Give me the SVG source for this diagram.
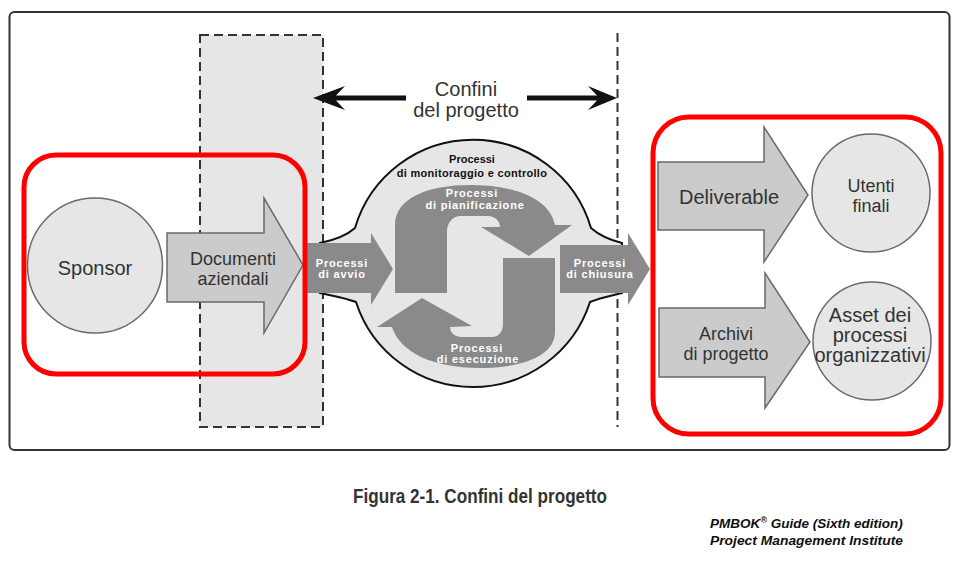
<svg xmlns="http://www.w3.org/2000/svg" width="961" height="562" viewBox="0 0 961 562">
<style>
.lbl{font-family:"Liberation Sans",Arial,sans-serif;font-size:20px;fill:#333;text-anchor:middle}
.l2{font-size:18px}
.wp{font-family:"Liberation Sans",Arial,sans-serif;font-size:11px;font-weight:bold;fill:#fff;text-anchor:middle;letter-spacing:0.8px}
.bp{font-family:"Liberation Sans",Arial,sans-serif;font-size:11px;font-weight:bold;fill:#111;text-anchor:middle}
.circ{fill:#e6e6e6;stroke:#6a6a6a;stroke-width:1.5}
.barrow{fill:#cbcbcb;stroke:#6a6a6a;stroke-width:1.5}
.proc{fill:#8a8a8a}
.dash{fill:none;stroke:#333;stroke-width:2;stroke-dasharray:9 5}
.red{fill:none;stroke:#ff0000;stroke-width:5}
</style>
<rect width="961" height="562" fill="#fff"/>
<rect id="frame" x="9.5" y="12" width="940" height="438" rx="5" fill="#fff" stroke="#333" stroke-width="2"/>
<g id="boundary">
<rect x="200" y="35" width="123" height="392" fill="#e6e6e6"/>
<rect x="200" y="35" width="123" height="392" class="dash"/>
<line x1="617.5" y1="33" x2="617.5" y2="427" class="dash"/>
</g>
<g id="connectors">
<path d="M406,95.5 L336,95.5 L345,86 L313,98 L345,110 L336,100.5 L406,100.5 Z" fill="#111"/>
<path d="M527,95.5 L597,95.5 L588,86 L617,98 L588,110 L597,100.5 L527,100.5 Z" fill="#111"/>
</g>
<g id="confini-label">
<text class="lbl" x="466" y="96">Confini</text>
<text class="lbl" x="466" y="117">del progetto</text>
</g>
<g id="sponsor">
<circle class="circ" cx="95" cy="265.5" r="67.5"/>
<text class="lbl" x="95" y="275">Sponsor</text>
</g>
<g id="documenti">
<path class="barrow" d="M167,233 L264,233 L264,198 L303,265 L264,333 L264,302 L167,302 Z"/>
<text class="lbl l2" x="233" y="265">Documenti</text>
<text class="lbl l2" x="233" y="285">aziendali</text>
</g>
<g id="monitoraggio">
<path d="M320,243 C335,240 346,236 355,228 A123 123 0 0 1 591,228 C600,236 610,240 622,243 L622,293 C610,296 600,298 590,302 A123 123 0 0 1 356,302 C346,298 334,296 320,293 Z" fill="#e6e6e6" stroke="#111" stroke-width="2"/>
<text class="bp" x="472" y="163">Processi</text>
<text class="bp" x="472" y="177" letter-spacing="0.3">di monitoraggio e controllo</text>
</g>
<g id="pianificazione">
<path class="proc" d="M395,293 L395,225 C395,198 428,185 470,185 C518,185 550,200 555,225 L572,225 L529,256 L481,227 L500,227 C500,221 495,216 488,216 L461,216 C452,216 447,223 447,232 L447,293 Z"/>
<text class="wp" x="472" y="197">Processi</text>
<text class="wp" x="475" y="209" letter-spacing="0.5">di pianificazione</text>
</g>
<g id="esecuzione">
<path class="proc" d="M555,258 L555,332 C555,356 522,368 480,368 C432,368 400,352 392,327 L377,327 L422,298 L472,326 L450,327 C450,333 455,337 462,337 L492,337 C499,337 503,331 503,324 L503,258 Z"/>
<text class="wp" x="477" y="352">Processi</text>
<text class="wp" x="478" y="363">di esecuzione</text>
</g>
<g id="avvio">
<path class="proc" d="M305,243 L371,243 L371,233 L393,269 L371,305 L371,293 L305,293 Z"/>
<text class="wp" x="342" y="267">Processi</text>
<text class="wp" x="342" y="278">di avvio</text>
</g>
<g id="chiusura">
<path class="proc" d="M560,245 L628,245 L628,233 L650,269 L628,305 L628,293 L560,293 Z"/>
<text class="wp" x="600" y="267">Processi</text>
<text class="wp" x="600" y="278">di chiusura</text>
</g>
<g id="deliverable">
<path class="barrow" d="M658,162 L764,162 L764,127 L808,195 L764,262 L764,230 L658,230 Z"/>
<text class="lbl" x="729" y="204">Deliverable</text>
</g>
<g id="utenti">
<circle class="circ" cx="871" cy="193" r="59"/>
<text class="lbl l2" x="871" y="192">Utenti</text>
<text class="lbl l2" x="871" y="212">finali</text>
</g>
<g id="archivi">
<path class="barrow" d="M659,308 L765,308 L765,273 L810,342 L765,408 L765,377 L659,377 Z"/>
<text class="lbl l2" x="726" y="340">Archivi</text>
<text class="lbl l2" x="726" y="360">di progetto</text>
</g>
<g id="asset">
<circle class="circ" cx="872" cy="341" r="59"/>
<text class="lbl" x="870" y="322" font-size="17.5">Asset dei</text>
<text class="lbl" x="870" y="342" font-size="17.5">processi</text>
<text class="lbl" x="870" y="362" font-size="17.5">organizzativi</text>
</g>
<g id="highlights">
<rect class="red" x="24" y="155" width="281" height="219" rx="32"/>
<rect class="red" x="653" y="117" width="288" height="317" rx="36"/>
</g>
<g id="caption">
<text x="353" y="503" font-family="'Liberation Sans',Arial,sans-serif" font-size="21" font-weight="bold" fill="#333" textLength="254" lengthAdjust="spacingAndGlyphs">Figura 2-1. Confini del progetto</text>
<text x="710" y="528" font-family="'Liberation Sans',Arial,sans-serif" font-size="13.5" font-weight="bold" font-style="italic" fill="#111">PMBOK<tspan font-size="9" dy="-5">®</tspan><tspan dy="5"> Guide (Sixth edition)</tspan></text>
<text x="710" y="545" font-family="'Liberation Sans',Arial,sans-serif" font-size="13.5" font-weight="bold" font-style="italic" fill="#111" textLength="193" lengthAdjust="spacingAndGlyphs">Project Management Institute</text>
</g>
</svg>
